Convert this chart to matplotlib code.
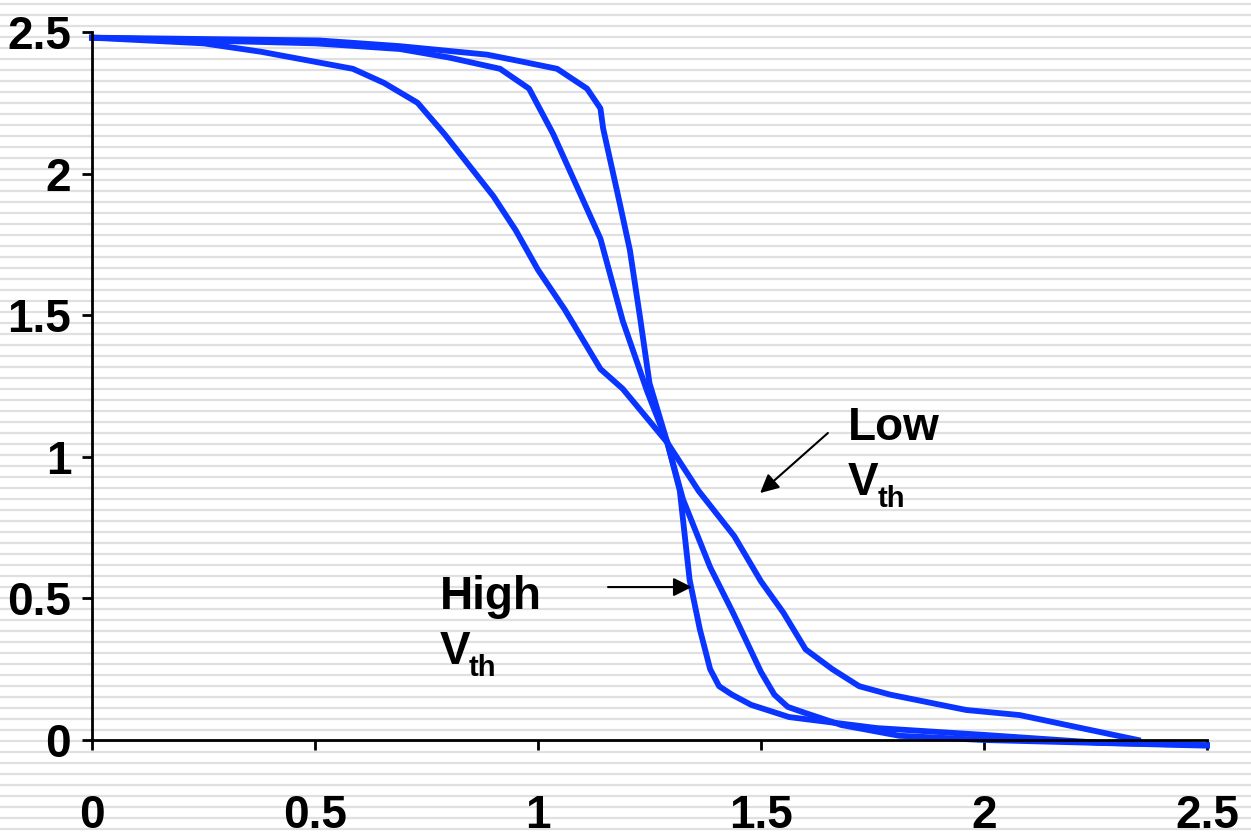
import matplotlib
matplotlib.use("Agg")
import matplotlib.pyplot as plt

plt.rcParams['font.family'] = ['Liberation Sans', 'DejaVu Sans']
plt.rcParams['font.weight'] = 'bold'

# inverter transfer curves (Vin, Vout)
low_x = [0, 0.25, 0.38, 0.585, 0.655, 0.73, 0.79, 0.84, 0.90, 0.95, 1.00, 1.06,
         1.14, 1.19, 1.29, 1.36, 1.44, 1.50, 1.55, 1.60, 1.66, 1.72, 1.79, 1.96,
         2.08, 2.345]
low_y = [2.48, 2.46, 2.43, 2.37, 2.32, 2.25, 2.14, 2.04, 1.92, 1.80, 1.66, 1.52,
         1.31, 1.24, 1.05, 0.88, 0.72, 0.56, 0.45, 0.32, 0.25, 0.19, 0.16, 0.106,
         0.088, 0.0]

mid_x = [0, 0.5, 0.69, 0.8, 0.915, 0.98, 1.034, 1.10, 1.14, 1.19, 1.245, 1.29,
         1.325, 1.386, 1.437, 1.50, 1.53, 1.56, 1.60, 1.68, 1.81, 2.0, 2.5]
mid_y = [2.48, 2.46, 2.44, 2.41, 2.37, 2.30, 2.14, 1.91, 1.77, 1.48, 1.23, 1.05,
         0.85, 0.61, 0.45, 0.24, 0.16, 0.117, 0.095, 0.053, 0.015, 0.0, -0.02]

high_x = [0, 0.51, 0.69, 0.886, 0.95, 1.043, 1.11, 1.14, 1.146, 1.184, 1.206,
          1.229, 1.25, 1.29, 1.318, 1.34, 1.363, 1.386, 1.406, 1.435, 1.478,
          1.563, 1.76, 2.0, 2.26, 2.5]
high_y = [2.48, 2.47, 2.45, 2.42, 2.40, 2.37, 2.30, 2.23, 2.16, 1.89, 1.73,
          1.49, 1.26, 1.05, 0.88, 0.565, 0.39, 0.25, 0.19, 0.16, 0.124,
          0.081, 0.042, 0.018, -0.01, -0.018]

ticks = [0, 0.5, 1, 1.5, 2, 2.5]
tick_labels = ['0', '0.5', '1', '1.5', '2', '2.5']

W, H = 1251, 836
fig = plt.figure(figsize=(W / 100, H / 100), dpi=100)

# striped slide background
bg = fig.add_axes([0, 0, 1, 1], zorder=0)
bg.set_xlim(0, W)
bg.set_ylim(H, 0)
bg.axis('off')
bg.hlines(list(range(4, H, 11)), 0, W, color='#e0e0e0', lw=1.6)

ax = fig.add_axes([92 / W, 1 - 740 / H, (1207 - 92) / W, (740 - 32) / H], zorder=1)
ax.patch.set_alpha(0)

blue = '#0a34ff'
for xs, ys in [(low_x, low_y), (mid_x, mid_y), (high_x, high_y)]:
    ax.plot(xs, ys, color=blue, lw=4.2, clip_on=False)

ax.set_xlim(0, 2.5)
ax.set_ylim(0, 2.5)
ax.set_xticks(ticks)
ax.set_xticklabels(tick_labels)
ax.set_yticks(ticks)
ax.set_yticklabels(tick_labels)
for s in ['top', 'right']:
    ax.spines[s].set_visible(False)
for s in ['left', 'bottom']:
    ax.spines[s].set_linewidth(2)
ax.tick_params(axis='both', length=7, width=2, labelsize=33)
ax.tick_params(axis='x', pad=32)
ax.tick_params(axis='y', pad=8)

# annotations
ax.text(1.695, 1.10, 'Low', fontsize=33, fontweight='bold', va='center', ha='left')
ax.text(1.695, 0.907, 'V', fontsize=33, fontweight='bold', va='center', ha='left')
ax.text(1.762, 0.85, 'th', fontsize=21, fontweight='bold', va='center', ha='left')
ax.annotate('', xy=(1.498, 0.872), xytext=(1.65, 1.084),
            arrowprops=dict(arrowstyle='-|>', color='black', lw=1.5,
                            mutation_scale=28, shrinkA=0, shrinkB=0))

ax.text(0.78, 0.505, 'High', fontsize=33, fontweight='bold', va='center', ha='left')
ax.text(0.78, 0.31, 'V', fontsize=33, fontweight='bold', va='center', ha='left')
ax.text(0.845, 0.255, 'th', fontsize=21, fontweight='bold', va='center', ha='left')
ax.annotate('', xy=(1.345, 0.54), xytext=(1.157, 0.54),
            arrowprops=dict(arrowstyle='-|>', color='black', lw=1.5,
                            mutation_scale=28, shrinkA=0, shrinkB=0))

fig.savefig('out.png', dpi=100)
